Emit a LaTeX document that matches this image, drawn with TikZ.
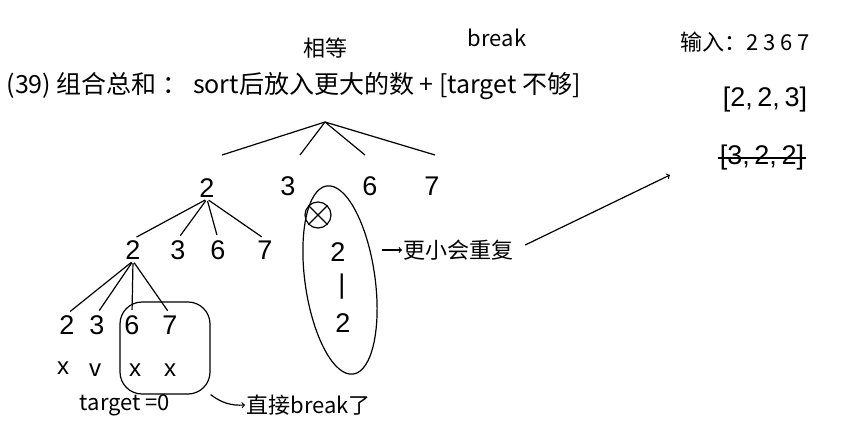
\documentclass[tikz,border=0pt]{standalone}
\usepackage{fontspec}
\setmainfont{Liberation Sans}
\newfontfamily\cjk{Noto Sans CJK SC}
\usetikzlibrary{positioning,shapes.geometric}
\begin{document}
\begin{tikzpicture}[x=1pt,y=-1pt,line width=1.2pt,
    num/.style={font=\fontsize{27}{29}\selectfont,inner sep=1pt},
    txt/.style={font=\fontsize{22}{24}\selectfont\cjk,inner sep=1pt},
    tick/.style={font=\fontsize{24}{26}\selectfont,inner sep=1pt}]
    \useasboundingbox (0,0) rectangle (854,436);
    % title
    \node[txt,anchor=west,font=\fontsize{25}{27}\selectfont\cjk] (title) at (5,86) {(39) 组合总和 ： sort后放入更大的数 + [target 不够]};
    \node[txt] (eq) at (325,48) {相等};
    \node[txt] (brk) at (497,38) {break};
    % input
    \node[txt] (input) at (745,42) {输入：2 3 6 7};
    \node[num] (ok) at (765,100) {[2,\,2,\,3]};
    \node[num] (dup) at (762,158) {[3,\,2,\,2]};
    \draw (dup.west) -- (dup.east);
    % tree
    \coordinate (r) at (325,122);
    \node[num] (a2) at (207,188) {2};
    \node[num] (a3) at (288,186) {3};
    \node[num] (a6) at (370,186) {6};
    \node[num] (a7) at (432,186) {7};
    \foreach \c/\x in {a2/222,a3/300,a6/365,a7/435}
        \draw (r) -- (\x,155);
    \node[num] (b2) at (133,250) {2};
    \node[num] (b3) at (178,250) {3};
    \node[num] (b6) at (218,250) {6};
    \node[num] (b7) at (265,250) {7};
    \foreach \c in {b2,b3,b6,b7}
        \draw[shorten <=2pt,shorten >=4pt] (a2.south) -- (\c.north);
    \node[num] (c2) at (67,325) {2};
    \node[num] (c3) at (97,325) {3};
    \node[num] (c6) at (132,325) {6};
    \node[num] (c7) at (170,325) {7};
    \foreach \c in {c2,c3,c6,c7}
        \draw[shorten <=2pt,shorten >=4pt] (b2.south) -- (\c.north);
    \node[tick] (m2) at (63,368) {x};
    \node[tick] (m3) at (95,370) {v};
    \node[tick] (m6) at (135,370) {x};
    \node[tick] (m7) at (170,370) {x};
    \node[txt] (zero) at (125,405) {target =0};
    \node[draw,rounded corners=22pt,minimum width=90pt,minimum height=92pt] (cut) at (165,348) {};
    \node[txt,anchor=west] (stop) at (245,405) {直接break了};
    \draw[->] (cut.south east) to[bend right=20] (stop.west);
    % duplicate branch
    \node[draw,ellipse,minimum width=70pt,minimum height=190pt,rotate=8] (dupbr) at (340,280) {};
    \node[draw,circle,minimum size=26pt] (no) at (318,215) {};
    \draw (no.north west) -- (no.south east) (no.north east) -- (no.south west);
    \node[num] (d2) at (338,252) {2};
    \node[num] (d1) at (342,287) {|};
    \node[num] (d3) at (343,323) {2};
    \node[txt,anchor=west] (less) at (402,250) {更小会重复};
    \draw[->] (less.west) ++(-20,0) coordinate (s) -- (less.west);
    \coordinate (t) at (670,175);
    \draw[->] (less.east) ++(10,-5) -- (t);
\end{tikzpicture}
\end{document}
